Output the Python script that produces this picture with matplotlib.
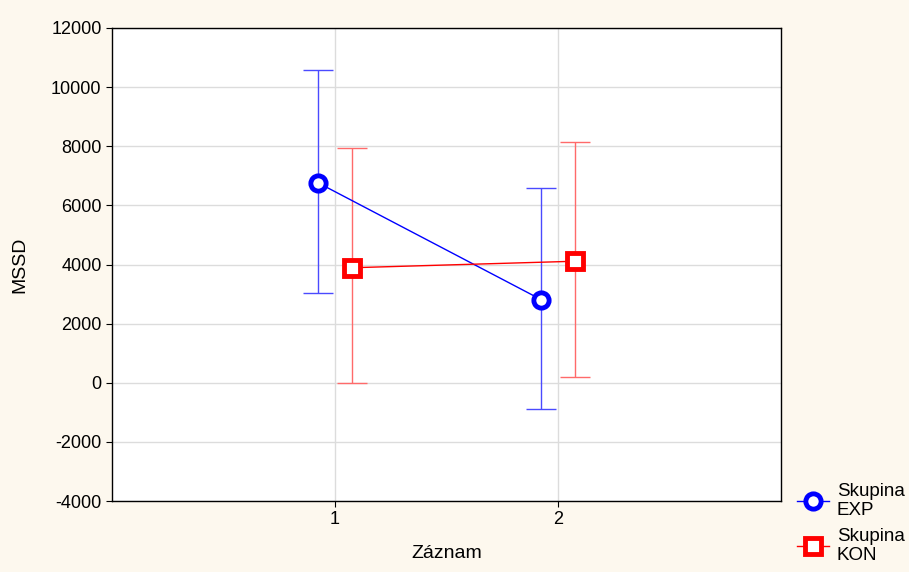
import matplotlib
matplotlib.use("Agg")
import matplotlib.pyplot as plt
import numpy as np

plt.rcParams['font.family'] = ['Liberation Sans', 'DejaVu Sans']
plt.rcParams['axes.unicode_minus'] = False

categories = [1, 2]
exp_mean = [6760, 2810]
exp_upper = [10570, 6590]
exp_lower = [3030, -900]
kon_mean = [3890, 4110]
kon_upper = [7930, 8150]
kon_lower = [0, 190]
yticks = list(range(-4000, 12001, 2000))

fig = plt.figure(figsize=(9.09, 5.72), dpi=100, facecolor='#fdf8ee')
ax = fig.add_axes([112/909, 1-501/572, (781-112)/909, (501-28)/572])
ax.set_facecolor('white')

off = 0.075
x = np.array(categories, dtype=float)

def draw(xs, mean, lo, hi, color, ecolor, marker, ms, label):
    mean = np.array(mean); lo = np.array(lo); hi = np.array(hi)
    ax.errorbar(xs, mean, yerr=[mean - lo, hi - mean], fmt='none',
                ecolor=ecolor, elinewidth=1, capsize=11, capthick=1, zorder=3)
    ax.plot(xs, mean, color=color, lw=1, marker=marker, ms=ms, mew=3.5,
            mfc='white', mec=color, zorder=4, label=label)

draw(x - off, exp_mean, exp_lower, exp_upper, '#0000ff', '#4a4aff', 'o', 11, 'Skupina\nEXP')
draw(x + off, kon_mean, kon_lower, kon_upper, '#ff0000', '#ff6a6a', 's', 12, 'Skupina\nKON')

ax.set_xlim(0, 3)
ax.set_ylim(-4000, 12000)
ax.set_xticks(categories)
ax.set_yticks(yticks)
ax.grid(True, color='#dcdcdc', lw=1)
ax.set_axisbelow(True)
ax.tick_params(labelsize=13, length=4, color='black')
for s in ax.spines.values():
    s.set_color('black')
    s.set_linewidth(1)
ax.set_xlabel('Záznam', fontsize=14, labelpad=12)
ax.set_ylabel('MSSD', fontsize=14, labelpad=16)

leg = ax.legend(loc='lower left', bbox_to_anchor=(1.012, -0.15), frameon=False,
                fontsize=13.5, handlelength=1.75, handletextpad=0.4,
                labelspacing=0.45, borderaxespad=0)

fig.savefig('out.png', dpi=100, facecolor=fig.get_facecolor())
